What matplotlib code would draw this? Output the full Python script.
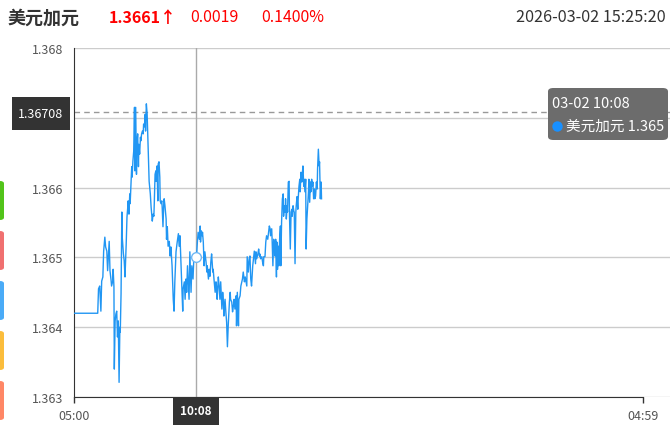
import matplotlib
matplotlib.use('Agg')
import matplotlib.pyplot as plt
from matplotlib.patches import FancyBboxPatch, Rectangle
from matplotlib.lines import Line2D
from matplotlib.transforms import blended_transform_factory

plt.rcParams['font.family'] = ['Noto Sans CJK SC', 'DejaVu Sans']

# ---------------- data ----------------
title_name = "美元加元"
last_price = "1.3661↑"
change_abs = "0.0019"
change_pct = "0.1400%"
timestamp = "2026-03-02 15:25:20"

x_tick_labels = ["05:00", "04:59"]
x_tick_minutes = [0, 1439]          # minutes after 05:00
y_ticks = [1.363, 1.364, 1.365, 1.366, 1.367, 1.368]
y_tick_labels = ["1.363", "1.364", "1.365", "1.366", "", "1.368"]

cursor_minute = 308                 # 10:08
cursor_label = "10:08"
cursor_value = 1.36501
hover_price = 1.36708
tooltip_title = "03-02 10:08"
tooltip_series = "美元加元 1.365"

minutes = [0, 60, 62, 65, 68, 70, 73, 75, 78, 80, 83, 85, 89, 91, 94, 95, 98, 99, 101, 102,
           104, 106, 108, 110, 112, 114, 116, 117, 119, 121, 122, 125, 127, 129, 132, 134, 136,
           137, 139, 141, 142, 144, 146, 147, 149, 151, 153, 154, 156, 158, 159, 161, 163, 164,
           166, 168, 169, 171, 173, 175, 176, 178, 180, 181, 183, 185, 186, 188, 190, 193, 195,
           197, 198, 200, 202, 203, 205, 207, 208, 210, 212, 213, 215, 217, 218, 220, 222, 223,
           225, 227, 228, 230, 233, 234, 236, 238, 241, 243, 245, 248, 251, 253, 255, 258, 261,
           264, 266, 268, 270, 272, 275, 276, 279, 281, 283, 285, 287, 289, 291, 293, 296, 298,
           301, 303, 306, 308, 310, 312, 314, 317, 319, 320, 322, 324, 325, 327, 329, 331, 334,
           336, 337, 340, 342, 344, 346, 348, 351, 352, 354, 357, 359, 361, 362, 365, 367, 369,
           371, 374, 376, 378, 379, 382, 384, 386, 388, 390, 393, 395, 396, 399, 401, 403, 405,
           407, 410, 411, 413, 416, 417, 420, 422, 426, 428, 431, 433, 437, 438, 441, 443, 445,
           447, 449, 452, 453, 456, 459, 460, 462, 465, 467, 469, 470, 472, 475, 477, 479, 480,
           483, 485, 487, 490, 492, 494, 496, 497, 500, 501, 503, 505, 507, 508, 510, 512, 513,
           515, 517, 518, 520, 522, 523, 525, 527, 529, 530, 532, 534, 535, 537, 539, 540, 542,
           544, 545, 547, 549, 551, 552, 554, 556, 557, 559, 561, 562, 564, 566, 567, 569, 571,
           572, 574, 576, 577, 579, 581, 582, 584, 586, 587, 589, 591, 593, 594, 596, 598, 599,
           601, 603, 604, 606, 608, 609, 611, 613, 615, 616, 618, 620, 621, 623, 625, 626]

prices = [1.36420, 1.36420, 1.36455, 1.36459, 1.36423, 1.36466, 1.36472, 1.36509, 1.36529, 1.36515,
          1.36509, 1.36481, 1.36523, 1.36481, 1.36466, 1.36459, 1.36466, 1.36483, 1.36458, 1.36340,
          1.36409, 1.36419, 1.36423, 1.36386, 1.36409, 1.36321, 1.36400, 1.36393, 1.36448, 1.36565,
          1.36529, 1.36505, 1.36495, 1.36472, 1.36519, 1.36558, 1.36572, 1.36581, 1.36562, 1.36591,
          1.36577, 1.36605, 1.36630, 1.36615, 1.36638, 1.36652, 1.36715, 1.36624, 1.36715, 1.36619,
          1.36662, 1.36677, 1.36630, 1.36662, 1.36648, 1.36672, 1.36667, 1.36677, 1.36681, 1.36677,
          1.36691, 1.36687, 1.36705, 1.36681, 1.36720, 1.36705, 1.36687, 1.36648, 1.36609, 1.36591,
          1.36572, 1.36558, 1.36552, 1.36562, 1.36559, 1.36577, 1.36619, 1.36624, 1.36609, 1.36631,
          1.36581, 1.36634, 1.36637, 1.36615, 1.36581, 1.36577, 1.36581, 1.36572, 1.36544, 1.36577,
          1.36584, 1.36574, 1.36555, 1.36526, 1.36544, 1.36516, 1.36523, 1.36502, 1.36515, 1.36488,
          1.36440, 1.36423, 1.36465, 1.36508, 1.36522, 1.36534, 1.36516, 1.36531, 1.36498, 1.36469,
          1.36423, 1.36455, 1.36465, 1.36440, 1.36469, 1.36450, 1.36488, 1.36465, 1.36440, 1.36508,
          1.36450, 1.36488, 1.36469, 1.36498, 1.36505, 1.36501, 1.36502, 1.36522, 1.36536, 1.36526,
          1.36545, 1.36522, 1.36538, 1.36531, 1.36536, 1.36522, 1.36488, 1.36508, 1.36493, 1.36479,
          1.36488, 1.36469, 1.36483, 1.36473, 1.36493, 1.36505, 1.36479, 1.36483, 1.36469, 1.36450,
          1.36465, 1.36455, 1.36440, 1.36472, 1.36459, 1.36440, 1.36465, 1.36426, 1.36450, 1.36436,
          1.36416, 1.36440, 1.36422, 1.36407, 1.36372, 1.36402, 1.36436, 1.36450, 1.36440, 1.36436,
          1.36422, 1.36430, 1.36440, 1.36426, 1.36445, 1.36402, 1.36450, 1.36402, 1.36440, 1.36445,
          1.36459, 1.36469, 1.36479, 1.36465, 1.36472, 1.36459, 1.36501, 1.36479, 1.36498, 1.36502,
          1.36469, 1.36459, 1.36488, 1.36493, 1.36509, 1.36491, 1.36508, 1.36498, 1.36505, 1.36512,
          1.36502, 1.36505, 1.36498, 1.36501, 1.36493, 1.36488, 1.36501, 1.36501, 1.36522, 1.36531,
          1.36526, 1.36536, 1.36545, 1.36541, 1.36531, 1.36541, 1.36526, 1.36488, 1.36526, 1.36516,
          1.36502, 1.36526, 1.36472, 1.36522, 1.36483, 1.36516, 1.36488, 1.36526, 1.36545, 1.36488,
          1.36551, 1.36584, 1.36591, 1.36559, 1.36574, 1.36565, 1.36584, 1.36555, 1.36574, 1.36565,
          1.36608, 1.36609, 1.36559, 1.36512, 1.36565, 1.36569, 1.36559, 1.36574, 1.36566, 1.36565,
          1.36491, 1.36565, 1.36574, 1.36587, 1.36569, 1.36584, 1.36602, 1.36612, 1.36594, 1.36622,
          1.36608, 1.36617, 1.36631, 1.36602, 1.36612, 1.36594, 1.36612, 1.36512, 1.36555, 1.36574,
          1.36594, 1.36612, 1.36579, 1.36608, 1.36594, 1.36612, 1.36602, 1.36608, 1.36584, 1.36598,
          1.36584, 1.36588, 1.36608, 1.36598, 1.36627, 1.36655, 1.36631, 1.36637, 1.36584, 1.36608,
          1.36584]

tab_colors = ["#52c41a", "#f07070", "#4aabf7", "#fbbd3c", "#ff8766"]

# ---------------- figure ----------------
W, H = 672, 427
fig = plt.figure(figsize=(W / 100, H / 100), dpi=100)
fig.patch.set_facecolor("white")

ax_left, ax_right, ax_top, ax_bottom = 74, 670, 49, 398
ax = fig.add_axes([ax_left / W, (H - ax_bottom) / H, (ax_right - ax_left) / W, (ax_bottom - ax_top) / H])
full_px = 643 - ax_left
ax.set_xlim(0, x_tick_minutes[-1] * (ax_right - ax_left) / full_px)
ax.set_ylim(y_ticks[0], y_ticks[-1])

ax.set_yticks(y_ticks)
ax.set_yticklabels(y_tick_labels)
ax.set_xticks(x_tick_minutes)
ax.set_xticklabels(x_tick_labels)
ax.yaxis.grid(True, color="#cccccc", linewidth=1)
ax.set_axisbelow(True)
for s in ["top", "right"]:
    ax.spines[s].set_visible(False)
ax.spines["left"].set_color("#333333")
ax.spines["bottom"].set_color("#333333")
ax.spines["bottom"].set_bounds(x_tick_minutes[0], x_tick_minutes[-1])
ax.tick_params(axis="y", length=0, pad=8, labelsize=9, labelcolor="#555555")
ax.tick_params(axis="x", length=4, width=1, color="#333333", pad=5, labelsize=9, labelcolor="#555555")

# line
ax.plot(minutes, prices, color="#2196f3", linewidth=1.0, zorder=3)

# crosshair
ax.axvline(cursor_minute, color="#aaaaaa", linewidth=1, zorder=2)
ax.axhline(hover_price, color="#999999", linewidth=1, linestyle=(0, (4, 3)), zorder=2)
ax.plot([cursor_minute], [cursor_value], marker="o", ms=7, mfc="white", mec="#6fb8f5", mew=1, zorder=4)

# x cursor label box
bt = blended_transform_factory(ax.transData, fig.transFigure)
ax.text(cursor_minute, 1 - 412 / H, cursor_label, transform=bt, ha="center", va="center",
        color="white", fontsize=8.5, fontweight="bold",
        bbox=dict(boxstyle="square,pad=0.62", fc="#333333", ec="none"), zorder=10, clip_on=False)

# y hover label box
fig.patches.append(Rectangle((12 / W, 1 - 131 / H), 58 / W, 33 / H, transform=fig.transFigure,
                             fc="#333333", ec="none", zorder=10))
fig.text(41 / W, 1 - 114 / H, f"{hover_price:.5f}", ha="center", va="center", color="white",
         fontsize=9, zorder=11)

# tooltip
fig.patches.append(FancyBboxPatch((548 / W, 1 - 141 / H), 120 / W, 52 / H,
                                  boxstyle="round,pad=0,rounding_size=0.008",
                                  transform=fig.transFigure, fc="#6c6c6c", ec="none", zorder=12))
fig.text(552 / W, 1 - 104 / H, tooltip_title, ha="left", va="center", color="white", fontsize=10.5, zorder=13)
fig.add_artist(Line2D([557 / W], [1 - 127 / H], transform=fig.transFigure, marker="o", ms=7.5,
                      mfc="#1890ff", mec="none", linestyle="none", zorder=13))
fig.text(566 / W, 1 - 127 / H, tooltip_series, ha="left", va="center", color="white", fontsize=10.5, zorder=13)

# header
fig.text(7 / W, 1 - 18 / H, title_name, ha="left", va="center", color="#333333", fontsize=13, fontweight="bold")
fig.text(109 / W, 1 - 18 / H, last_price, ha="left", va="center", color="#ff0000", fontsize=11.5, fontweight="bold")
fig.text(190 / W, 1 - 18 / H, change_abs, ha="left", va="center", color="#ff0000", fontsize=11.5)
fig.text(261 / W, 1 - 18 / H, change_pct, ha="left", va="center", color="#ff0000", fontsize=11.5)
fig.text(516 / W, 1 - 18 / H, timestamp, ha="left", va="center", color="#333333", fontsize=11.7)

# left side tabs
for i, c in enumerate(tab_colors):
    top = 182 + i * 50
    fig.patches.append(FancyBboxPatch((-6 / W, 1 - (top + 39) / H), 10 / W, 39 / H,
                                      boxstyle="round,pad=0,rounding_size=0.006",
                                      transform=fig.transFigure, fc=c, ec="none"))

fig.savefig("out.png", dpi=100)
